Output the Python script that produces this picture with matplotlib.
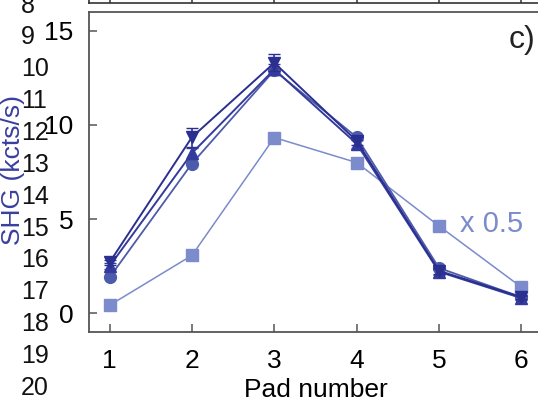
import matplotlib
matplotlib.use("Agg")
import matplotlib.pyplot as plt

plt.rcParams['font.family'] = ['Liberation Sans', 'DejaVu Sans']

pads = [1, 2, 3, 4, 5, 6]
shg_down = [2.7, 9.35, 13.3, 9.15, 2.25, 0.85]
err_down = [0.15, 0.5, 0.45, 0.2, 0.15, 0.1]
shg_up = [2.5, 8.5, 12.95, 9.0, 2.2, 0.8]
err_up = [0.15, 0.3, 0.3, 0.2, 0.15, 0.1]
shg_circle = [1.9, 7.95, 12.9, 9.35, 2.4, 0.85]
shg_square = [0.42, 3.07, 9.33, 8.0, 4.63, 1.38]
line_numbers = list(range(8, 21))
xticks = [1, 2, 3, 4, 5, 6]
yticks = [0, 5, 10, 15]

W, H = 538, 401
fig = plt.figure(figsize=(W / 100, H / 100), dpi=100)

def fx(px):
    return px / W

def fy(py):
    return 1 - py / H

spine_col = '#555555'
left_px, right_px = 89, 542
ax = fig.add_axes([fx(left_px), fy(332), fx(right_px - left_px), (332 - 12) / H])
ax.set_xlim(0.75, 6.25)
ax.set_ylim(-1, 16)

c_dark = '#2b2f90'
c_dark2 = '#343b9c'
c_mid = '#4d5bab'
c_light = '#7b8bcb'

ax.plot(pads, shg_square, '-s', color=c_light, lw=1.1, ms=8, mec=c_light, zorder=2)
ax.plot(pads, shg_circle, '-o', color=c_mid, lw=1.3, ms=8.5, zorder=3)
ax.errorbar(pads, shg_up, yerr=err_up, fmt='-^', color=c_dark2, lw=1.4, ms=9,
            capsize=4, elinewidth=1.2, zorder=4)
ax.errorbar(pads, shg_down, yerr=err_down, fmt='-v', color=c_dark, lw=1.4, ms=9,
            capsize=4, elinewidth=1.2, zorder=5)

ax.set_xticks(xticks)
ax.set_yticks(yticks)
ax.tick_params(direction='in', length=6, width=1.1, color=spine_col,
               labelsize=19, pad=11)
ax.tick_params(axis='x', pad=12)
for s in ax.spines.values():
    s.set_color(spine_col)
    s.set_linewidth(1.3)
ax.set_xlabel('Pad number', fontsize=19, labelpad=4)

# partial panel above
ax2 = fig.add_axes([fx(left_px), fy(3), fx(right_px - left_px), 0.3])
ax2.set_xlim(0.75, 6.25)
ax2.set_xticks(xticks)
ax2.set_yticks([])
ax2.tick_params(direction='in', length=6, width=1.1, color='#333333', labelbottom=False)
for s in ax2.spines.values():
    s.set_color('#333333')
    s.set_linewidth(1.2)

# y label
fig.text(fx(13), fy(170), 'SHG (kcts/s)', rotation=90, ha='center', va='center',
         fontsize=19, color='#3a3f9e')

# annotations
fig.text(fx(535), fy(40), 'c)', ha='right', va='center', fontsize=23, color='#222222')
ax.text(5.25, 4.75, 'x 0.5', ha='left', va='center', fontsize=21, color=c_light)

# manuscript line numbers
for i, n in enumerate(line_numbers):
    y = 5.6 + i * 31.86
    fig.text(fx(21), fy(y), str(n), ha='left', va='center', fontsize=18, color='#111111')

fig.savefig('out.png', dpi=100)
